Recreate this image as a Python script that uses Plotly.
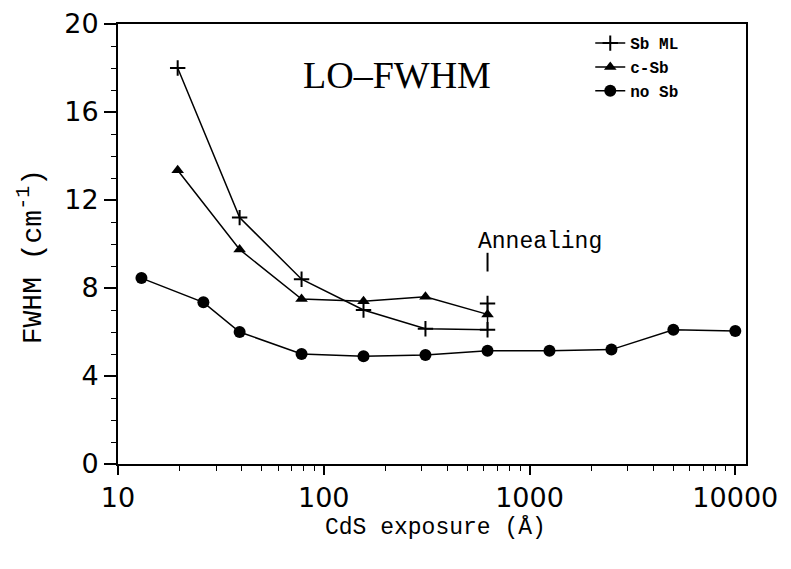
import math
import plotly.graph_objects as go

# ---- data ----
sb_ml_x = [19.5, 39, 78, 156, 312, 625, 625]
sb_ml_y = [18.0, 11.2, 8.4, 7.0, 6.15, 6.1, 7.3]

csb_x = [19.5, 39, 78, 156, 312, 625]
csb_y = [13.35, 9.75, 7.5, 7.4, 7.6, 6.8]

nosb_x = [13, 26, 39, 78, 156, 312, 625, 1250, 2500, 5000, 10000]
nosb_y = [8.45, 7.35, 6.0, 5.0, 4.9, 4.95, 5.15, 5.15, 5.2, 6.1, 6.05]

anneal_x = [625, 625]
anneal_y = [8.75, 9.6]

x_tickvals = [10, 100, 1000, 10000]
x_ticktext = ["10", "100", "1000", "10000"]
y_tickvals = [0, 4, 8, 12, 16, 20]

fig = go.Figure()

fig.add_trace(go.Scatter(
    x=sb_ml_x, y=sb_ml_y, name="Sb ML", mode="lines+markers",
    line=dict(color="black", width=1.5),
    marker=dict(symbol="cross-thin", size=11, color="black",
                line=dict(color="black", width=2)),
))
fig.add_trace(go.Scatter(
    x=csb_x, y=csb_y, name="c-Sb", mode="lines+markers",
    line=dict(color="black", width=1.5),
    marker=dict(symbol="triangle-up", size=11, color="black"),
))
fig.add_trace(go.Scatter(
    x=nosb_x, y=nosb_y, name="no Sb", mode="lines+markers",
    line=dict(color="black", width=1.5),
    marker=dict(symbol="circle", size=12, color="black"),
))
fig.add_trace(go.Scatter(
    x=anneal_x, y=anneal_y, mode="lines", showlegend=False,
    line=dict(color="black", width=2), hoverinfo="skip",
))

fig.update_layout(
    width=791, height=569,
    margin=dict(l=110, r=53, t=16, b=113),
    paper_bgcolor="white", plot_bgcolor="white",
    showlegend=True,
    legend=dict(x=0.752, y=0.995, xanchor="left", yanchor="top",
                bgcolor="rgba(0,0,0,0)", tracegroupgap=0,
                font=dict(family="Liberation Mono", size=16, color="black", weight="bold"),
                itemwidth=30),
    font=dict(color="black"),
)

fig.update_xaxes(
    type="log", range=[1, 4.052], automargin=False,
    tickvals=x_tickvals, ticktext=x_ticktext,
    ticks="outside", ticklen=9, tickwidth=1.5, tickcolor="black",
    minor=dict(ticks="outside", ticklen=5, tickwidth=1.2, tickcolor="black",
               tickvals=[m * 10 ** e for e in range(1, 4) for m in range(2, 10)],
               showgrid=False),
    showline=True, linecolor="black", linewidth=2, mirror=True,
    showgrid=False, zeroline=False,
    tickfont=dict(family="DejaVu Sans", size=27, color="black"),
)
fig.update_yaxes(
    range=[0, 20], automargin=False,
    tickvals=y_tickvals,
    ticks="outside", ticklen=12, tickwidth=1.5, tickcolor="black",
    minor=dict(ticks="outside", ticklen=5, tickwidth=1.2, tickcolor="black",
               dtick=1, showgrid=False),
    showline=True, linecolor="black", linewidth=2, mirror=True,
    showgrid=False, zeroline=False,
    tickfont=dict(family="DejaVu Sans", size=27, color="black"),
)

fig.add_annotation(
    text="LO\u2013FWHM", x=math.log10(226), y=17.7, xref="x", yref="y",
    showarrow=False, font=dict(family="Liberation Serif", size=38, color="black"),
)
fig.add_annotation(
    text="Annealing", x=math.log10(1130), y=10.1, xref="x", yref="y",
    showarrow=False, font=dict(family="Liberation Mono", size=23, color="black"),
)
fig.add_annotation(
    text="CdS exposure (Å)", x=0.506, y=-0.145, xref="paper", yref="paper",
    xanchor="center", yanchor="middle", showarrow=False,
    font=dict(family="Liberation Mono", size=23, color="black"),
)
fig.add_annotation(
    text="FWHM (cm<sup><span style='font-size:20px'>-1</span></sup>)",
    x=-0.14, y=0.47, xref="paper", yref="paper",
    xanchor="center", yanchor="middle", textangle=-90, showarrow=False,
    font=dict(family="Liberation Mono", size=28, color="black"),
)

fig.write_html("out.html")
